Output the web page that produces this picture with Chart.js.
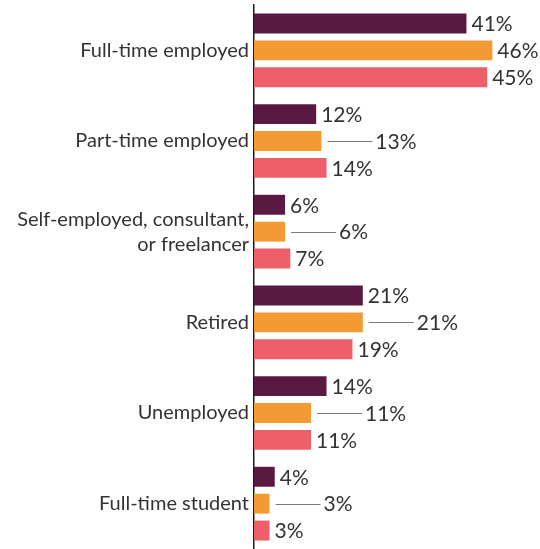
<!DOCTYPE html>
<html>
<head>
<meta charset="utf-8">
<script src="https://cdn.jsdelivr.net/npm/chart.js@4"></script>
<style>
  html, body { margin: 0; padding: 0; background: #ffffff; }
  #wrap { width: 540px; height: 549px; }
</style>
</head>
<body>
<div id="wrap"><canvas id="c" width="540" height="549"></canvas></div>
<script>
const categories = [
  "Full-time employed",
  "Part-time employed",
  ["Self-employed, consultant,", "or freelancer"],
  "Retired",
  "Unemployed",
  "Full-time student"
];
const seriesNames = ["Series 1", "Series 2", "Series 3"];
const series1 = [41, 12, 6, 21, 14, 4];
const series2 = [46, 13, 6, 21, 11, 3];
const series3 = [45, 14, 7, 19, 11, 3];
const colors = ["#5a1942", "#f39a35", "#ee5f6a"];

const FONT = "Lato";
const TEXT = "#333333";
const FSIZE = 20;
const LSIZE = 21;

const labelPlugin = {
  id: "valueLabels",
  afterDatasetsDraw(chart) {
    const ctx = chart.ctx;
    ctx.save();
    ctx.font = LSIZE + "px " + FONT;
    ctx.fillStyle = TEXT;
    ctx.textBaseline = "middle";
    ctx.textAlign = "left";
    const metas = [0, 1, 2].map(i => chart.getDatasetMeta(i));
    const data = chart.data.datasets.map(d => d.data);
    const n = data[0].length;
    for (let j = 0; j < n; j++) {
      for (let i = 0; i < 3; i++) {
        const el = metas[i].data[j];
        const v = data[i][j];
        const txt = v + "%";
        let x = el.x + 5;
        if (i === 1 && v <= Math.max(data[0][j], data[2][j])) {
          ctx.beginPath();
          ctx.strokeStyle = "#7a7a7a";
          ctx.lineWidth = 1;
          ctx.moveTo(el.x + 6, Math.round(el.y) + 0.5);
          ctx.lineTo(el.x + 51, Math.round(el.y) + 0.5);
          ctx.stroke();
          x = el.x + 54;
        }
        ctx.fillText(txt, x, el.y + 1);
      }
    }
    ctx.restore();
  }
};

new Chart(document.getElementById("c"), {
  type: "bar",
  data: {
    labels: categories,
    datasets: [series1, series2, series3].map((d, i) => ({
      label: seriesNames[i],
      data: d,
      backgroundColor: colors[i],
      borderWidth: 0,
      categoryPercentage: 0.89,
      barPercentage: 0.74
    }))
  },
  options: {
    indexAxis: "y",
    responsive: false,
    animation: false,
    devicePixelRatio: 1,
    layout: { padding: { top: 5, right: 1, bottom: 0, left: 0 } },
    plugins: {
      legend: { display: false },
      tooltip: { enabled: false }
    },
    scales: {
      x: { display: false, min: 0, max: 55 },
      y: {
        grid: { display: false, drawTicks: false },
        border: { display: true, color: "#1a1a1a", width: 1.5 },
        ticks: {
          color: TEXT,
          padding: 5,
          font: { family: FONT, size: FSIZE, lineHeight: 1.25 }
        },
        afterFit(scale) {
          scale.width = 254;
          scale.paddingTop = 0;
          scale.paddingBottom = 0;
        }
      }
    }
  },
  plugins: [labelPlugin]
});
</script>
</body>
</html>
